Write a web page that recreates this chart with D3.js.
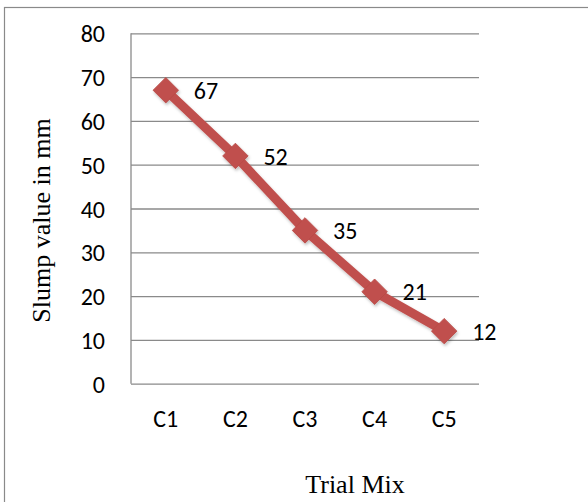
<!DOCTYPE html>
<html>
<head>
<meta charset="utf-8">
<script src="https://cdn.jsdelivr.net/npm/d3@7"></script>
<style>
  html, body { margin: 0; padding: 0; background: #fff; }
  svg { display: block; }
</style>
</head>
<body>
<svg id="chart" width="588" height="502"></svg>
<script>
// Slump test results per trial mix
const categories = ["C1", "C2", "C3", "C4", "C5"];
const slump = [67, 52, 35, 21, 12];
const yTicks = [0, 10, 20, 30, 40, 50, 60, 70, 80];

const svg = d3.select("#chart");
const W = 588, H = 502;
const plot = { left: 131, right: 479, top: 33.3, bottom: 383.7 };

const sansFont = "Carlito, Calibri, Lato, sans-serif";
const sansSize = 24;
const serifFont = "'Liberation Serif', 'Times New Roman', serif";
const red = "#C0504D";
const gridColor = "#8a8a8a";

// chart area frame (continues past the right and bottom edges)
svg.append("rect")
  .attr("x", 4.5).attr("y", 7.5)
  .attr("width", W + 20).attr("height", H + 20)
  .attr("fill", "#fff")
  .attr("stroke", gridColor).attr("stroke-width", 1.2);

const x = d3.scaleBand().domain(categories).range([plot.left, plot.right]);
const y = d3.scaleLinear().domain([0, 80]).range([plot.bottom, plot.top]);

// horizontal gridlines + value labels
const yAxis = svg.append("g")
  .attr("transform", `translate(${plot.left},0)`)
  .call(d3.axisLeft(y).tickValues(yTicks).tickSize(-(plot.right - plot.left)).tickPadding(26));
yAxis.select(".domain").remove();
yAxis.selectAll(".tick line").attr("stroke", gridColor).attr("stroke-width", 1.3);
yAxis.selectAll(".tick text")
  .attr("fill", "#000")
  .attr("font-family", sansFont)
  .attr("font-size", sansSize)
  .attr("dy", "0.36em");

// vertical axis line
svg.append("line")
  .attr("x1", plot.left).attr("x2", plot.left)
  .attr("y1", y(80)).attr("y2", y(0))
  .attr("stroke", gridColor).attr("stroke-width", 1.3);

// category axis
const xAxis = svg.append("g")
  .attr("transform", `translate(0,${y(0)})`)
  .call(d3.axisBottom(x).tickSize(0).tickPadding(0));
xAxis.select(".domain").remove();
xAxis.selectAll(".tick text")
  .attr("fill", "#000")
  .attr("font-family", sansFont)
  .attr("font-size", sansSize)
  .attr("dy", 0)
  .attr("y", 43);

// soft shadow under the series
const defs = svg.append("defs");
const f = defs.append("filter").attr("id", "shadow")
  .attr("x", "-20%").attr("y", "-20%").attr("width", "140%").attr("height", "140%");
f.append("feDropShadow")
  .attr("dx", 1).attr("dy", 2).attr("stdDeviation", 1.8)
  .attr("flood-color", "#000").attr("flood-opacity", 0.25);

const pts = categories.map((c, i) => ({ c, v: slump[i] }));
const cx = d => x(d.c) + x.bandwidth() / 2;

const series = svg.append("g").attr("filter", "url(#shadow)");
series.append("path")
  .datum(pts)
  .attr("fill", "none")
  .attr("stroke", red)
  .attr("stroke-width", 9)
  .attr("stroke-linejoin", "round")
  .attr("d", d3.line().x(cx).y(d => y(d.v)));

const diamond = d3.symbol().type(d3.symbolSquare).size(18 * 18);
series.selectAll("path.marker")
  .data(pts).join("path")
  .attr("class", "marker")
  .attr("d", diamond)
  .attr("transform", d => `translate(${cx(d)},${y(d.v)}) rotate(45)`)
  .attr("fill", red)
  .attr("stroke", "#b84a47").attr("stroke-width", 0.8);

// value labels
svg.selectAll("text.val")
  .data(pts).join("text")
  .attr("class", "val")
  .attr("x", d => cx(d) + 28)
  .attr("y", d => y(d.v))
  .attr("dy", "0.36em")
  .attr("font-family", sansFont)
  .attr("font-size", sansSize)
  .attr("fill", "#000")
  .text(d => d.v);

// axis titles
svg.append("text")
  .attr("transform", `translate(50,${(plot.top + plot.bottom) / 2 + 12}) rotate(-90)`)
  .attr("text-anchor", "middle")
  .attr("font-family", serifFont)
  .attr("font-size", 26)
  .attr("fill", "#000")
  .text("Slump value in mm");

svg.append("text")
  .attr("x", 355).attr("y", 493)
  .attr("text-anchor", "middle")
  .attr("font-family", serifFont)
  .attr("font-size", 26)
  .attr("fill", "#000")
  .text("Trial Mix");
</script>
</body>
</html>
